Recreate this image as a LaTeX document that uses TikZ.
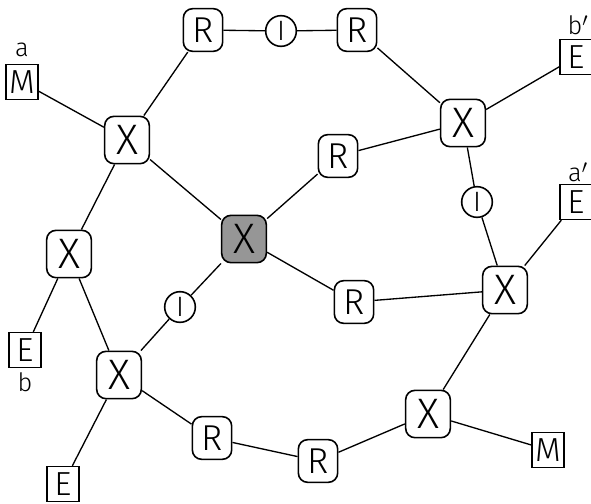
\documentclass[tikz,border=0pt]{standalone}
\usepackage{fontspec}
\setmainfont{Fira Sans}[UprightFont=* Light]
\usepackage{tikz}

\definecolor{hubgray}{RGB}{150,150,150}

\begin{document}
\begin{tikzpicture}[
    x=0.75pt, y=-0.75pt,
    xnode/.style={rectangle, draw=black, line width=1.2pt, rounded corners=7pt, fill=white, minimum width=33.5pt, minimum height=35.5pt, inner sep=0pt, font=\fontsize{32}{32}\selectfont},
    rnode/.style={rectangle, draw=black, line width=1.2pt, rounded corners=7pt, fill=white, minimum width=29.5pt, minimum height=32pt, inner sep=0pt, font=\fontsize{27}{27}\selectfont},
    inode/.style={circle, draw=black, line width=1.2pt, fill=white, minimum size=23pt, inner sep=0pt, font=\fontsize{21}{21}\selectfont},
    term/.style={rectangle, draw=black, line width=0.8pt, fill=white, minimum width=24pt, minimum height=26.5pt, inner sep=0pt, font=\fontsize{25}{25}\selectfont},
    tag/.style={inner sep=0pt, font=\fontsize{19}{19}\selectfont},
    link/.style={line width=1pt}
]
\useasboundingbox (0,0) rectangle (591,503);

% Hub
\node[xnode, fill=hubgray] at (244,239) (hub) {X};

% Outer X nodes
\node[xnode] at (127,140) (xtl) {X};
\node[xnode] at (463,123) (xtr) {X};
\node[xnode] at (69,254) (xml) {X};
\node[xnode] at (119,375) (xbl) {X};
\node[xnode] at (505,290) (xmr) {X};
\node[xnode] at (428,414) (xbr) {X};

% R nodes
\node[rnode] at (203,30) (rtl) {R};
\node[rnode] at (357,30) (rtr) {R};
\node[rnode] at (338,156) (rmu) {R};
\node[rnode] at (354,302) (rml) {R};
\node[rnode] at (212,438) (rbl) {R};
\node[rnode] at (318,461) (rbm) {R};

% I nodes
\node[inode] at (281,31) (itop) {I};
\node[inode] at (477,202) (iright) {I};
\node[inode] at (180,307) (ilow) {I};

% Terminals
\node[term] at (22,82) (ma) {M};
\node[term] at (576,57) (eb2) {E};
\node[term] at (576,202) (ea2) {E};
\node[term] at (25,350) (eb) {E};
\node[term] at (63,484) (ebot) {E};
\node[term] at (548,450) (mbot) {M};

% Labels
\node[tag] at (22,50) (la) {a};
\node[tag] at (25,382) (lb) {b};
\node[tag] at (578,25) (lb2) {b$'$};
\node[tag] at (578,172) (la2) {a$'$};

% Links
\draw[link] (ma) -- (xtl);
\draw[link] (xtl) -- (rtl);
\draw[link] (rtl) -- (itop);
\draw[link] (itop) -- (rtr);
\draw[link] (rtr) -- (xtr);
\draw[link] (xtr) -- (eb2);
\draw[link] (xtr) -- (rmu);
\draw[link] (rmu) -- (hub);
\draw[link] (xtl) -- (hub);
\draw[link] (xtl) -- (xml);
\draw[link] (xml) -- (eb);
\draw[link] (xml) -- (xbl);
\draw[link] (xbl) -- (ilow);
\draw[link] (ilow) -- (hub);
\draw[link] (xbl) -- (ebot);
\draw[link] (xbl) -- (rbl);
\draw[link] (rbl) -- (rbm);
\draw[link] (rbm) -- (xbr);
\draw[link] (xbr) -- (mbot);
\draw[link] (xbr) -- (xmr);
\draw[link] (xmr) -- (rml);
\draw[link] (rml) -- (hub);
\draw[link] (xmr) -- (iright);
\draw[link] (iright) -- (xtr);
\draw[link] (xmr) -- (ea2);

\end{tikzpicture}
\end{document}
